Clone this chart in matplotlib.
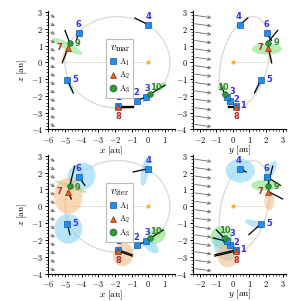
import numpy as np
import matplotlib
matplotlib.use('Agg')
import matplotlib.pyplot as plt
from matplotlib.patches import Ellipse
from matplotlib.lines import Line2D
from matplotlib.ticker import AutoMinorLocator, FuncFormatter, MultipleLocator

plt.rcParams['mathtext.fontset'] = 'cm'
plt.rcParams['font.family'] = ['DejaVu Serif']

# ---------------- data ----------------
point_ids = ['1', '2', '3', '4', '5', '6', '7', '8', '9', '10']
point_grp = ['A1', 'A1', 'A1', 'A1', 'A1', 'A1', 'A2', 'A2', 'A3', 'A3']
pt_x = [-1.81, -0.70, -0.16, 0.00, -4.86, -4.17, -4.82, -1.81, -4.72, 0.10]
pt_y = [0.20, -0.20, -0.36, 0.44, 1.70, 2.03, 2.14, 0.20, 2.10, -0.50]
pt_z = [-2.58, -2.32, -2.08, 2.24, -1.04, 1.76, 0.87, -2.66, 1.18, -1.91]

# direction vectors (v_mar)
mar_dx = [0.90, 0.50, 0.30, -0.80, 0.36, -0.15, -0.34, 0.90, -0.28, 0.90]
mar_dy = [-0.50, -0.25, -0.15, 0.46, -0.40, 0.30, 0.20, -0.50, 0.60, -0.22]
mar_dz = [0.00, 0.25, 0.15, 0.40, -0.79, -0.45, -0.90, 0.00, 0.72, 0.55]

# direction vectors (v_iter)
iter_dx = [0.85, 0.50, 0.35, -0.90, 0.16, 0.37, 0.20, 0.85, 0.30, 0.80]
iter_dy = [-1.30, -0.35, -0.84, 0.36, -0.74, 0.84, 0.86, -1.30, 0.30, -0.50]
iter_dz = [-0.30, 0.20, 0.20, -0.20, -0.64, -0.52, -0.43, -0.30, 1.20, 0.50]

# uncertainty regions: (point index, centre h, centre v, width, height, angle)
mar_xz_regions = [(8, -4.85, 0.95, 2.0, 0.45, -28), (6, -5.0, 0.45, 1.0, 0.25, 68),
                  (4, -4.68, -1.45, 0.9, 0.22, -65), (7, -1.35, -2.70, 1.0, 0.20, 0),
                  (9, 0.75, -1.45, 0.8, 0.35, 33)]
mar_yz_regions = [(8, 2.05, 0.80, 1.8, 0.7, 0), (6, 2.25, 0.35, 1.0, 0.2, -80),
                  (4, 1.5, -1.45, 0.9, 0.22, 63), (7, -0.05, -2.62, 0.6, 0.15, 0),
                  (9, -0.68, -1.5, 0.5, 0.45, 0)]
iter_xz_regions = [(5, -4.0, 1.79, 1.7, 1.6, 30), (8, -4.63, 1.16, 2.0, 0.25, -20),
                   (6, -4.8, 0.61, 1.7, 2.15, 0), (4, -4.8, -1.34, 1.67, 1.76, 0),
                   (7, -1.5, -2.87, 1.2, 1.43, -15), (3, -0.2, 2.05, 1.7, 0.45, 80),
                   (9, 0.5, -1.75, 1.2, 0.9, 30), (2, 0.2, -2.4, 1.0, 0.6, -40)]
iter_yz_regions = [(3, 0.44, 2.12, 1.76, 1.41, 0), (5, 2.25, 2.1, 1.4, 0.5, 60),
                   (8, 1.9, 1.24, 1.6, 0.65, 0), (6, 2.2, 0.32, 0.6, 1.1, 0),
                   (4, 1.3, -1.05, 1.2, 0.4, -20), (9, -0.7, -1.83, 1.3, 1.3, 0),
                   (2, -0.5, -2.45, 1.2, 1.7, 30), (7, -0.3, -2.9, 1.3, 1.45, 0)]

# orbit (centre, semi-axis vectors)
orb_c = (-1.85, 0.70, 0.0)
orb_u = (-3.15, 1.44, 0.0)
orb_v = (0.0, 0.50, 2.72)
sun_pos = (0.0, 0.0, 0.0)
node_pos = (-5.0, 2.14, 0.0)

# inflow arrows
flow_vec = (0.25, 1.0, -0.14)
flow_x0 = -5.85
flow_y0 = -2.30
flow_z0 = [2.80, 2.30, 1.80, 1.30, 0.80, 0.30, -0.20, -0.70, -1.20, -1.70,
           -2.20, -2.70, -3.20, -3.70]

# ---------------- styles ----------------
grp_marker = {'A1': 's', 'A2': '^', 'A3': 'o'}
grp_face = {'A1': '#1f8fef', 'A2': '#ec5a1e', 'A3': '#2e9a3a'}
grp_edge = {'A1': '#0a3a80', 'A2': '#7a2000', 'A3': '#0e4a16'}
grp_shade = {'A1': '#7fd0f2', 'A2': '#f7b97a', 'A3': '#7fe07a'}
grp_text = {'A1': '#3030f0', 'A2': '#b02a2a', 'A3': '#2a8a2a'}
grp_label = {'A1': r'$\mathrm{A}_1$', 'A2': r'$\mathrm{A}_2$', 'A3': r'$\mathrm{A}_3$'}

off_xz = {'1': (0, 6), '2': (0, 6), '3': (1, 6), '4': (0, 6), '5': (6, 0), '6': (0, 6),
          '7': (-6, 0), '8': (0, -7), '9': (6, -1), '10': (4, 5)}
off_yz = {'1': (5, 0), '2': (5, 1), '3': (4, 4), '4': (-1, 6), '5': (6, 0), '6': (0, 6),
          '7': (-6, 0), '8': (0, -7), '9': (6, 0), '10': (-1, 5)}
off_yz_iter = dict(off_yz)
off_yz_iter['10'] = (0, 6)
off_yz_iter['3'] = (4, 5.5)
off_yz_iter['2'] = (4.5, 2)

fig = plt.figure(figsize=(3.0, 3.01), dpi=100)
ax_tl = fig.add_axes([0.161, 0.570, 0.422, 0.393])
ax_tr = fig.add_axes([0.643, 0.570, 0.31, 0.393])
ax_bl = fig.add_axes([0.161, 0.091, 0.422, 0.394])
ax_br = fig.add_axes([0.643, 0.091, 0.31, 0.394])

t = np.linspace(0, 2 * np.pi, 400)
orb = [orb_c[k] + orb_u[k] * np.cos(t) + orb_v[k] * np.sin(t) for k in range(3)]
P = [np.array(pt_x), np.array(pt_y), np.array(pt_z)]


def setup(ax, xlim, xlabel, zlabel):
    ax.set_xlim(*xlim)
    ax.set_ylim(-4, 3.05)
    for s in ['top', 'right']:
        ax.spines[s].set_visible(False)
    for s in ['left', 'bottom']:
        ax.spines[s].set_linewidth(0.8)
    ax.xaxis.set_major_locator(MultipleLocator(1))
    ax.yaxis.set_major_locator(MultipleLocator(1))
    ax.xaxis.set_minor_locator(AutoMinorLocator())
    ax.yaxis.set_minor_locator(AutoMinorLocator())
    fmt = FuncFormatter(lambda v, p: r'$%d$' % round(v))
    ax.xaxis.set_major_formatter(fmt)
    ax.yaxis.set_major_formatter(fmt)
    ax.tick_params(which='major', direction='out', length=2.5, width=0.7,
                   labelsize=6, pad=1.2)
    ax.tick_params(which='minor', direction='out', length=1.4, width=0.5)
    ax.set_xlabel(xlabel, fontsize=6.8, labelpad=-1)
    if zlabel:
        ax.set_ylabel(r'$z\ [\mathrm{au}]$', fontsize=6.8, labelpad=1)


def draw(ax, hk, dx, dy, dz, regions, offs, legend_title=None):
    h = {'x': 0, 'y': 1}[hk]
    D = [np.array(dx), np.array(dy), np.array(dz)]
    # orbit, sun line, sun
    ax.plot(orb[h], orb[2], color='#dcdcdc', lw=1.0, zorder=1)
    ax.plot([sun_pos[h], node_pos[h]], [sun_pos[2], node_pos[2]],
            color='#e4e4e4', lw=0.8, zorder=1)
    ax.plot(sun_pos[h], sun_pos[2], 'o', ms=3, color='#f8b530', mec='none', zorder=2)
    # inflow arrows
    start = [flow_x0, flow_y0]
    for z0 in flow_z0:
        ax.annotate('', xy=(start[h] + flow_vec[h], z0 + flow_vec[2]),
                    xytext=(start[h], z0),
                    arrowprops=dict(arrowstyle='->', color='#6a6a6a', lw=0.6,
                                    mutation_scale=5, shrinkA=0, shrinkB=0),
                    zorder=2)
    # regions
    for (i, cx, cy, w, hh, ang) in regions:
        ax.add_patch(Ellipse((cx, cy), w, hh, angle=ang,
                             facecolor=grp_shade[point_grp[i]], edgecolor='none',
                             alpha=0.55, zorder=2))
    # vectors
    for i in range(len(point_ids)):
        ax.plot([P[h][i], P[h][i] + D[h][i]], [P[2][i], P[2][i] + D[2][i]],
                color='black', lw=0.9, zorder=3)
    # markers
    for i in range(len(point_ids)):
        g = point_grp[i]
        ax.plot(P[h][i], P[2][i], grp_marker[g], ms=4, mfc=grp_face[g],
                mec=grp_edge[g], mew=0.4, zorder=4)
        ox, oy = offs[point_ids[i]]
        ax.annotate(point_ids[i], (P[h][i], P[2][i]), xytext=(ox, oy),
                    textcoords='offset points', ha='center', va='center',
                    fontsize=6, fontweight='bold', color=grp_text[g],
                    family='DejaVu Sans', zorder=5)
    if legend_title:
        handles = [Line2D([], [], ls='none', marker=grp_marker[g], ms=5,
                          mfc=grp_face[g], mec=grp_edge[g], mew=0.4,
                          label=grp_label[g]) for g in ['A1', 'A2', 'A3']]
        leg = ax.legend(handles=handles, title=legend_title, loc='upper left',
                        bbox_to_anchor=(0.425, 0.80), fontsize=6,
                        title_fontsize=8, handlelength=0.8, handletextpad=0.3,
                        borderpad=0.4, labelspacing=0.25, framealpha=1,
                        edgecolor='#bbbbbb', fancybox=False)
        leg.get_frame().set_linewidth(0.8)
        leg.set_zorder(6)


setup(ax_tl, (-6, 1.6), r'$x\ [\mathrm{au}]$', True)
setup(ax_tr, (-2.42, 3.2), r'$y\ [\mathrm{au}]$', False)
setup(ax_bl, (-6, 1.6), r'$x\ [\mathrm{au}]$', True)
setup(ax_br, (-2.42, 3.2), r'$y\ [\mathrm{au}]$', False)

draw(ax_tl, 'x', mar_dx, mar_dy, mar_dz, mar_xz_regions, off_xz, r'$v_\mathrm{mar}$')
draw(ax_tr, 'y', mar_dx, mar_dy, mar_dz, mar_yz_regions, off_yz)
draw(ax_bl, 'x', iter_dx, iter_dy, iter_dz, iter_xz_regions, off_xz, r'$v_\mathrm{iter}$')
draw(ax_br, 'y', iter_dx, iter_dy, iter_dz, iter_yz_regions, off_yz_iter)

fig.savefig('out.png', dpi=100)
